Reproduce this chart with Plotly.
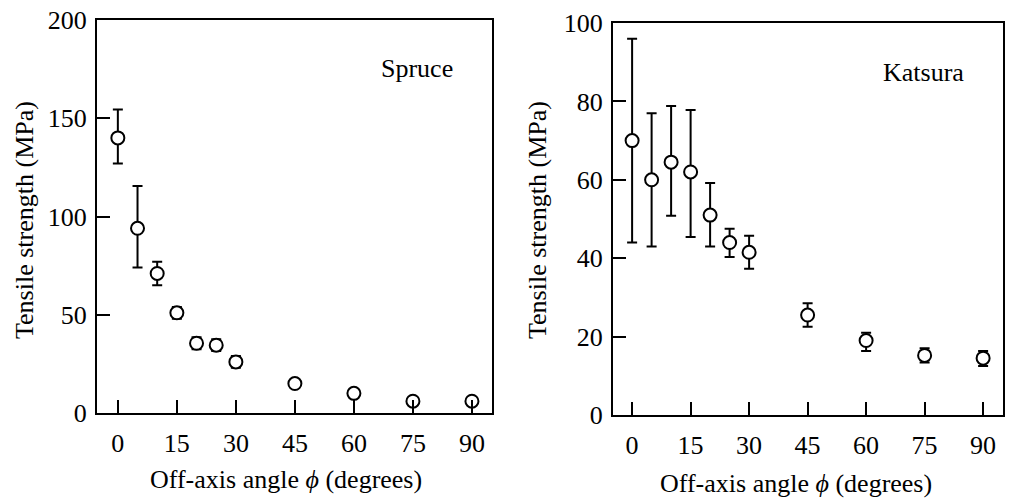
import plotly.graph_objects as go

# ---- data ----
angles = [0, 5, 10, 15, 20, 25, 30, 45, 60, 75, 90]

spruce_mean = [140, 94, 71, 51, 35.5, 34.5, 26, 15, 10, 6, 6]
spruce_err_plus = [14.5, 21.5, 6, 3, 3, 3, 3, 0, 0, 0, 0]
spruce_err_minus = [13, 20, 6, 3, 3, 3, 3, 0, 0, 0, 0]

katsura_mean = [70, 60, 64.5, 62, 51, 44, 41.5, 25.5, 19, 15.2, 14.5]
katsura_err_plus = [26, 17, 14.3, 15.8, 8.2, 3.5, 4.2, 3, 2, 1.8, 1.8]
katsura_err_minus = [26, 17, 13.7, 16.6, 8, 3.7, 4.2, 3, 2.7, 1.8, 2]

x_ticks = [0, 15, 30, 45, 60, 75, 90]
spruce_y_ticks = [0, 50, 100, 150, 200]
katsura_y_ticks = [0, 20, 40, 60, 80, 100]

W, H = 1015, 498
FONT = "Liberation Serif"


def trace(y, ep, em, xa, ya):
    return go.Scatter(
        x=angles, y=y, mode="markers", xaxis=xa, yaxis=ya, showlegend=False,
        marker=dict(symbol="circle", size=13, color="white",
                    line=dict(color="black", width=2)),
        error_y=dict(type="data", array=ep, arrayminus=em, color="black",
                     thickness=2, width=5, visible=True),
    )


fig = go.Figure()
fig.add_trace(trace(spruce_mean, spruce_err_plus, spruce_err_minus, "x", "y"))
fig.add_trace(trace(katsura_mean, katsura_err_plus, katsura_err_minus, "x2", "y2"))

axis_common = dict(showline=True, mirror=True, linecolor="black", linewidth=2,
                   ticks="inside", ticklen=13, tickwidth=2, tickcolor="black",
                   showgrid=False, zeroline=False, automargin=False,
                   tickfont=dict(family=FONT, size=26, color="black"))

fig.update_layout(
    width=W, height=H,
    margin=dict(l=0, r=0, t=0, b=0, pad=0, autoexpand=False),
    paper_bgcolor="white", plot_bgcolor="white",
    xaxis=dict(domain=[97 / W, 492 / W], range=[-5.3, 95.1], anchor="y",
               tickvals=x_ticks, ticklabelstandoff=6, **axis_common),
    yaxis=dict(domain=[1 - 413 / H, 1 - 20 / H], range=[0, 200], anchor="x",
               tickvals=spruce_y_ticks, ticklabelstandoff=3, **axis_common),
    xaxis2=dict(domain=[613 / W, 1003 / W], range=[-4.9, 95.1], anchor="y2",
                tickvals=x_ticks, ticklabelstandoff=6, **axis_common),
    yaxis2=dict(domain=[1 - 415 / H, 1 - 23 / H], range=[0, 100], anchor="x2",
                tickvals=katsura_y_ticks, ticklabelstandoff=3, **axis_common),
)

tfont = dict(family=FONT, size=26, color="black")
annots = [
    dict(text="Spruce", x=417 / W, y=1 - 68 / H),
    dict(text="Katsura", x=923 / W, y=1 - 72 / H),
    dict(text="Off-axis angle <i>ϕ</i> (degrees)", x=286 / W, y=1 - 479 / H),
    dict(text="Off-axis angle <i>ϕ</i> (degrees)", x=796 / W, y=1 - 483 / H),
    dict(text="Tensile strength (MPa)", x=25 / W, y=1 - 220 / H, textangle=-90),
    dict(text="Tensile strength (MPa)", x=538 / W, y=1 - 220 / H, textangle=-90),
]
for a in annots:
    fig.add_annotation(xref="paper", yref="paper", xanchor="center", yanchor="middle",
                       showarrow=False, font=tfont, **a)

fig.write_html(
    "out.html",
    config={"displayModeBar": False},
    post_script="document.body.style.margin='0';document.body.style.overflow='hidden';",
)
